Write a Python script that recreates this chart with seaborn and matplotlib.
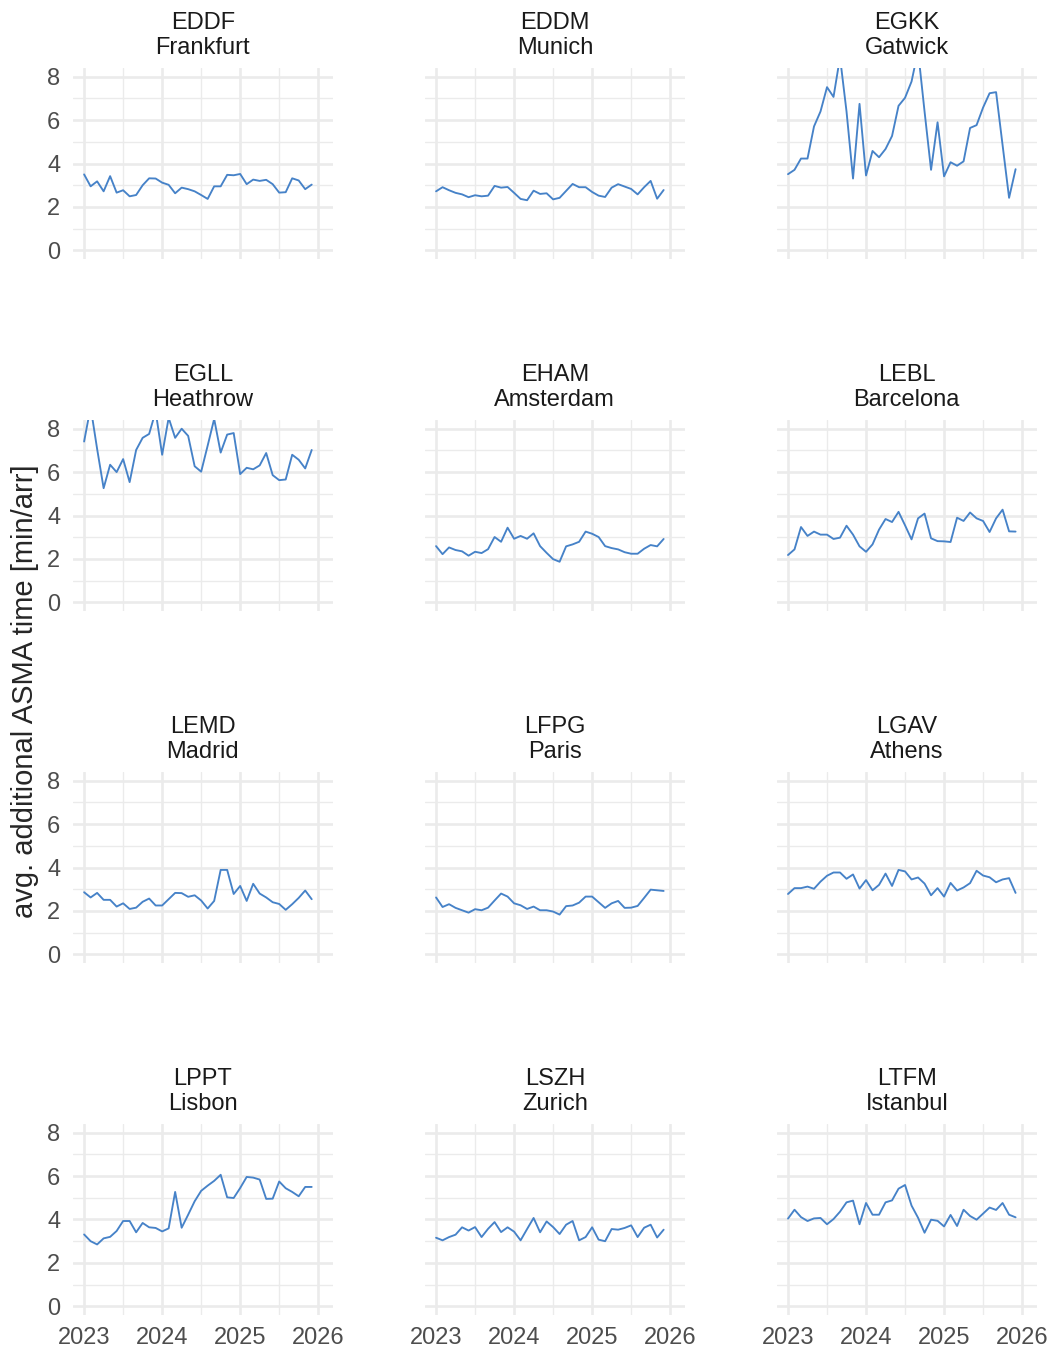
import pandas as pd
import seaborn as sns
import matplotlib.pyplot as plt

# 월별 시점 (2023-01 ~ 2025-12)
months = pd.date_range('2023-01-01', periods=36, freq='MS')

# 공항 코드와 도시명
codes = ['EDDF', 'EDDM', 'EGKK', 'EGLL', 'EHAM', 'LEBL',
         'LEMD', 'LFPG', 'LGAV', 'LPPT', 'LSZH', 'LTFM']
names = ['Frankfurt', 'Munich', 'Gatwick', 'Heathrow', 'Amsterdam', 'Barcelona',
         'Madrid', 'Paris', 'Athens', 'Lisbon', 'Zurich', 'Istanbul']

# 공항별 월평균 추가 ASMA 시간 [min/arr]
eddf = [3.50, 2.95, 3.18, 2.72, 3.42, 2.66, 2.77, 2.49, 2.55, 3.00, 3.32, 3.31,
        3.12, 3.02, 2.63, 2.89, 2.82, 2.72, 2.55, 2.37, 2.95, 2.95, 3.48, 3.46,
        3.52, 3.05, 3.26, 3.20, 3.25, 3.05, 2.66, 2.68, 3.32, 3.22, 2.82, 3.03]
eddm = [2.72, 2.91, 2.77, 2.65, 2.58, 2.45, 2.54, 2.49, 2.52, 2.97, 2.89, 2.92,
        2.65, 2.37, 2.31, 2.75, 2.60, 2.63, 2.35, 2.42, 2.74, 3.06, 2.91, 2.91,
        2.69, 2.52, 2.46, 2.89, 3.05, 2.94, 2.83, 2.58, 2.91, 3.20, 2.38, 2.78]
egkk = [3.51, 3.71, 4.23, 4.23, 5.71, 6.40, 7.52, 7.07, 8.90, 6.40, 3.31, 6.75,
        3.45, 4.58, 4.29, 4.67, 5.27, 6.66, 7.03, 7.78, 9.20, 6.40, 3.71, 5.90,
        3.41, 4.06, 3.90, 4.10, 5.64, 5.77, 6.58, 7.24, 7.29, 4.85, 2.42, 3.74]
egll = [7.41, 9.00, 7.07, 5.26, 6.34, 6.00, 6.60, 5.54, 7.02, 7.58, 7.76, 8.80,
        6.80, 8.50, 7.58, 8.00, 7.67, 6.27, 6.02, 7.22, 8.45, 6.90, 7.73, 7.80,
        5.91, 6.20, 6.13, 6.31, 6.88, 5.86, 5.63, 5.66, 6.80, 6.57, 6.17, 7.02]
eham = [2.59, 2.22, 2.53, 2.41, 2.35, 2.15, 2.33, 2.27, 2.45, 3.01, 2.79, 3.44,
        2.93, 3.06, 2.93, 3.18, 2.59, 2.28, 1.99, 1.87, 2.58, 2.67, 2.79, 3.26,
        3.16, 3.01, 2.59, 2.50, 2.44, 2.31, 2.24, 2.24, 2.47, 2.64, 2.58, 2.92]
lebl = [2.18, 2.44, 3.47, 3.06, 3.26, 3.12, 3.12, 2.92, 2.98, 3.53, 3.12, 2.58,
        2.33, 2.67, 3.35, 3.84, 3.70, 4.17, 3.55, 2.90, 3.87, 4.09, 2.95, 2.82,
        2.81, 2.78, 3.90, 3.75, 4.14, 3.87, 3.75, 3.24, 3.87, 4.27, 3.27, 3.26]
lemd = [2.86, 2.62, 2.83, 2.51, 2.51, 2.20, 2.35, 2.09, 2.15, 2.42, 2.57, 2.25,
        2.25, 2.54, 2.83, 2.82, 2.65, 2.72, 2.48, 2.11, 2.46, 3.89, 3.89, 2.78,
        3.15, 2.46, 3.25, 2.80, 2.62, 2.40, 2.32, 2.05, 2.31, 2.60, 2.94, 2.54]
lfpg = [2.62, 2.18, 2.31, 2.14, 2.03, 1.92, 2.08, 2.03, 2.15, 2.48, 2.80, 2.66,
        2.35, 2.26, 2.09, 2.20, 2.03, 2.03, 1.97, 1.83, 2.22, 2.25, 2.38, 2.66,
        2.66, 2.40, 2.14, 2.35, 2.46, 2.14, 2.15, 2.23, 2.60, 2.98, 2.95, 2.92]
lgav = [2.78, 3.05, 3.05, 3.12, 3.02, 3.35, 3.62, 3.77, 3.77, 3.48, 3.68, 3.03,
        3.42, 2.95, 3.20, 3.72, 3.15, 3.89, 3.82, 3.45, 3.54, 3.26, 2.72, 3.05,
        2.66, 3.29, 2.94, 3.08, 3.28, 3.85, 3.63, 3.55, 3.32, 3.45, 3.51, 2.83]
lppt = [3.31, 3.00, 2.85, 3.13, 3.20, 3.47, 3.93, 3.93, 3.41, 3.84, 3.64, 3.61,
        3.45, 3.59, 5.27, 3.62, 4.22, 4.84, 5.32, 5.56, 5.78, 6.06, 5.02, 4.99,
        5.45, 5.96, 5.93, 5.84, 4.95, 4.96, 5.75, 5.44, 5.27, 5.07, 5.50, 5.50]
lszh = [3.16, 3.04, 3.19, 3.30, 3.64, 3.49, 3.65, 3.19, 3.57, 3.88, 3.42, 3.64,
        3.44, 3.04, 3.56, 4.07, 3.41, 3.91, 3.65, 3.33, 3.76, 3.93, 3.04, 3.19,
        3.64, 3.07, 3.00, 3.56, 3.53, 3.61, 3.73, 3.19, 3.62, 3.76, 3.17, 3.53]
ltfm = [4.04, 4.45, 4.11, 3.93, 4.05, 4.07, 3.78, 4.02, 4.36, 4.79, 4.87, 3.78,
        4.76, 4.22, 4.22, 4.79, 4.88, 5.42, 5.59, 4.64, 4.08, 3.39, 3.99, 3.94,
        3.68, 4.21, 3.70, 4.45, 4.16, 3.99, 4.27, 4.55, 4.44, 4.76, 4.22, 4.10]

series = [eddf, eddm, egkk, egll, eham, lebl, lemd, lfpg, lgav, lppt, lszh, ltfm]

# long format 데이터프레임으로 합치기
frames = []
for code, name, vals in zip(codes, names, series):
    frames.append(pd.DataFrame({'airport': code, 'name': name,
                                'month': months, 'asma': vals}))
df = pd.concat(frames, ignore_index=True)
# 날짜를 소수 연도로 변환
df['year'] = df['month'].dt.year + (df['month'].dt.month - 1) / 12

sns.set_style('white')
plt.rcParams['font.family'] = ['Liberation Sans', 'DejaVu Sans']

fig, axes = plt.subplots(4, 3, figsize=(10.57, 13.53), dpi=100, sharex=True, sharey=True)
fig.subplots_adjust(left=0.0688, right=0.981, top=0.9497, bottom=0.0281,
                    wspace=0.352, hspace=0.843)

for ax, code, name in zip(axes.flat, codes, names):
    sub = df[df['airport'] == code]
    sns.lineplot(data=sub, x='year', y='asma', ax=ax, color='#4682C8', linewidth=1.35)
    ax.set_title(f'{code}\n{name}', fontsize=17, color='#1A1A1A', pad=10,
                 linespacing=1.2)
    ax.set_xlim(2022.854, 2026.19)
    ax.set_ylim(-0.4, 8.4)
    ax.set_xticks([2023, 2024, 2025, 2026])
    ax.set_xticks([2023.5, 2024.5, 2025.5], minor=True)
    ax.set_yticks([0, 2, 4, 6, 8])
    ax.set_yticks([1, 3, 5, 7], minor=True)
    ax.grid(which='major', color='#EBEBEB', linewidth=1.9)
    ax.grid(which='minor', color='#EBEBEB', linewidth=1.0)
    ax.set_axisbelow(True)
    for s in ax.spines.values():
        s.set_visible(False)
    ax.tick_params(which='both', length=0, labelsize=17, labelcolor='#4D4D4D', pad=9)
    ax.set_xlabel('')
    ax.set_ylabel('')

fig.text(0.024, 0.489, 'avg. additional ASMA time [min/arr]', rotation=90,
         va='center', ha='center', fontsize=21)

plt.savefig('out.png', dpi=100)
